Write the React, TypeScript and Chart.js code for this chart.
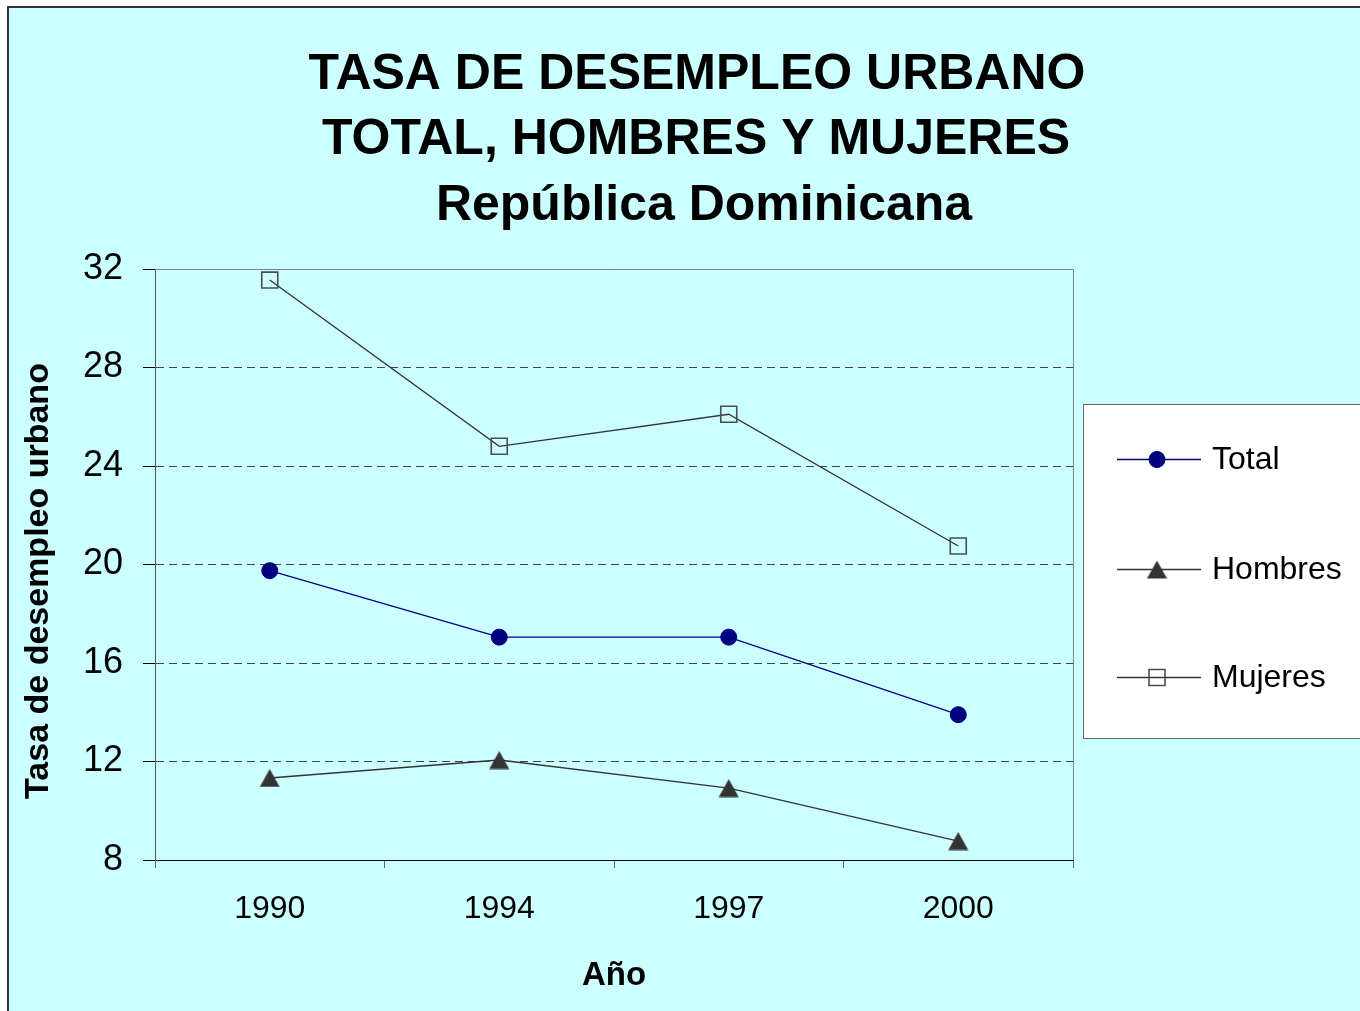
import React, { useEffect, useRef } from 'react';
import { Chart, registerables } from 'chart.js';
import { drawPoint } from 'chart.js/helpers';

Chart.register(...registerables);

const years = ['1990', '1994', '1997', '2000'];
const total = [19.75, 17.05, 17.05, 13.9];
const hombres = [11.33, 12.06, 10.92, 8.77];
const mujeres = [31.55, 24.8, 26.1, 20.75];
const seriesNames = ['Total', 'Hombres', 'Mujeres'];
const titleLines = ['TASA DE DESEMPLEO URBANO', 'TOTAL, HOMBRES Y MUJERES', 'República Dominicana'];
const yTitle = 'Tasa de desempleo urbano';
const xTitle = 'Año';
const yMin = 8;
const yMax = 32;
const yStep = 4;

const FONT = '"Liberation Sans", Arial, Helvetica, sans-serif';

function makeTriangle(color: string): HTMLCanvasElement {
  const c = document.createElement('canvas');
  c.width = 21;
  c.height = 19;
  const g = c.getContext('2d')!;
  g.fillStyle = color;
  g.beginPath();
  g.moveTo(10.5, 0.5);
  g.lineTo(20.5, 18.5);
  g.lineTo(0.5, 18.5);
  g.closePath();
  g.fill();
  return c;
}

const framePlugin = {
  id: 'frame',
  beforeDraw(chart: any) {
    const { ctx, width, height } = chart;
    ctx.save();
    ctx.fillStyle = '#ffffff';
    ctx.fillRect(0, 0, width, height);
    ctx.fillStyle = '#CCFFFF';
    ctx.fillRect(8, 7, width - 8, height - 7);
    ctx.strokeStyle = '#333333';
    ctx.lineWidth = 2;
    ctx.beginPath();
    ctx.moveTo(8, height);
    ctx.lineTo(8, 7);
    ctx.lineTo(width, 7);
    ctx.stroke();

    // title
    ctx.fillStyle = '#000';
    ctx.font = `bold 50px ${FONT}`;
    ctx.textAlign = 'center';
    ctx.textBaseline = 'alphabetic';
    const centers = [697, 696, 704];
    const baselines = [89, 154, 220];
    titleLines.forEach((t, i) => ctx.fillText(t, centers[i], baselines[i]));

    // y axis title
    ctx.save();
    ctx.translate(39, 581);
    ctx.rotate(-Math.PI / 2);
    ctx.font = `bold 34px ${FONT}`;
    ctx.textBaseline = 'middle';
    ctx.textAlign = 'center';
    ctx.fillText(yTitle, 0, 0);
    ctx.restore();
    ctx.restore();
  },
  beforeDatasetsDraw(chart: any) {
    const { ctx, chartArea } = chart;
    ctx.save();
    ctx.strokeStyle = '#808080';
    ctx.lineWidth = 1;
    ctx.beginPath();
    ctx.moveTo(chartArea.left, chartArea.top + 0.5);
    ctx.lineTo(chartArea.right + 0.5, chartArea.top + 0.5);
    ctx.lineTo(chartArea.right + 0.5, chartArea.bottom);
    ctx.stroke();
    ctx.restore();
  },
  afterDraw(chart: any) {
    const { ctx, width } = chart;
    ctx.save();
    ctx.fillStyle = '#ffffff';
    ctx.fillRect(1083, 404, width - 1083 + 5, 334);
    ctx.strokeStyle = '#666666';
    ctx.lineWidth = 1;
    ctx.strokeRect(1083.5, 404.5, width - 1083 + 5, 334);
    const rows = [459, 569, 677];
    chart.data.datasets.forEach((ds: any, i: number) => {
      const y = rows[i];
      ctx.strokeStyle = ds.borderColor;
      ctx.lineWidth = 1.3;
      ctx.beginPath();
      ctx.moveTo(1117, y + 0.5);
      ctx.lineTo(1201, y + 0.5);
      ctx.stroke();
      ctx.fillStyle = ds.pointBackgroundColor;
      ctx.strokeStyle = ds.pointBorderColor;
      ctx.lineWidth = ds.pointBorderWidth;
      drawPoint(ctx, { pointStyle: ds.pointStyle, radius: ds.legendRadius, borderWidth: ds.pointBorderWidth, rotation: 0 }, 1157, y + 0.5);
      ctx.fillStyle = '#000';
      ctx.font = `32px ${FONT}`;
      ctx.textAlign = 'left';
      ctx.textBaseline = 'middle';
      ctx.fillText(ds.label, 1212, y + 1);
    });
    ctx.restore();
  },
};

export default function App() {
  const ref = useRef<HTMLCanvasElement | null>(null);
  useEffect(() => {
    if (!ref.current) return;
    const tri = makeTriangle('#333333');
    const chart = new Chart(ref.current, {
      type: 'line',
      data: {
        labels: years,
        datasets: [
          {
            label: seriesNames[0],
            data: total,
            borderColor: '#000080',
            borderWidth: 1.3,
            pointStyle: 'circle',
            pointRadius: 8,
            legendRadius: 8,
            pointBackgroundColor: '#000080',
            pointBorderColor: '#000080',
            pointBorderWidth: 1,
            tension: 0,
          } as any,
          {
            label: seriesNames[1],
            data: hombres,
            borderColor: '#333333',
            borderWidth: 1.3,
            pointStyle: tri,
            pointRadius: 10,
            legendRadius: 10,
            pointBackgroundColor: '#333333',
            pointBorderColor: '#333333',
            pointBorderWidth: 1,
            tension: 0,
          } as any,
          {
            label: seriesNames[2],
            data: mujeres,
            borderColor: '#333333',
            borderWidth: 1.3,
            pointStyle: 'rect',
            pointRadius: 11.3,
            legendRadius: 11.3,
            pointBackgroundColor: 'rgba(0,0,0,0)',
            pointBorderColor: '#4d4d4d',
            pointBorderWidth: 1.6,
            tension: 0,
          } as any,
        ],
      },
      options: {
        animation: false,
        responsive: false,
        layout: { padding: { top: 269, right: 287, left: 0, bottom: 0 } },
        plugins: {
          legend: { display: false },
          title: { display: false },
          tooltip: { enabled: false },
        },
        scales: {
          x: {
            type: 'category',
            offset: true,
            grid: {
              offset: true,
              drawOnChartArea: false,
              drawTicks: true,
              tickLength: 8,
              color: '#666666',
              tickColor: '#666666',
            },
            border: { display: true, color: '#000000', width: 1 },
            ticks: {
              color: '#000',
              padding: 22,
              font: { family: FONT, size: 32 },
              maxRotation: 0,
            },
            title: {
              display: true,
              text: xTitle,
              color: '#000',
              font: { family: FONT, size: 33, weight: 'bold' },
              padding: { top: 0, bottom: 15 },
            },
            afterFit(scale: any) {
              scale.height = 151;
            },
          },
          y: {
            min: yMin,
            max: yMax,
            grid: {
              color: (c: any) => (c.tick && (c.tick.value === yMin || c.tick.value === yMax) ? 'rgba(0,0,0,0)' : '#444444'),
              tickColor: '#000000',
              tickLength: 12,
              tickBorderDash: [],
              lineWidth: 1,
            },
            border: { display: true, color: '#555555', width: 1, dash: [8, 5] },
            ticks: {
              stepSize: yStep,
              color: '#000',
              padding: 20,
              font: { family: FONT, size: 36 },
            },
            afterFit(scale: any) {
              scale.width = 155;
            },
          },
        },
      } as any,
      plugins: [framePlugin],
    });
    return () => chart.destroy();
  }, []);
  return (
    <canvas
      ref={ref}
      width={1360}
      height={1011}
      style={{ position: 'fixed', left: 0, top: 0, display: 'block' }}
    />
  );
}
